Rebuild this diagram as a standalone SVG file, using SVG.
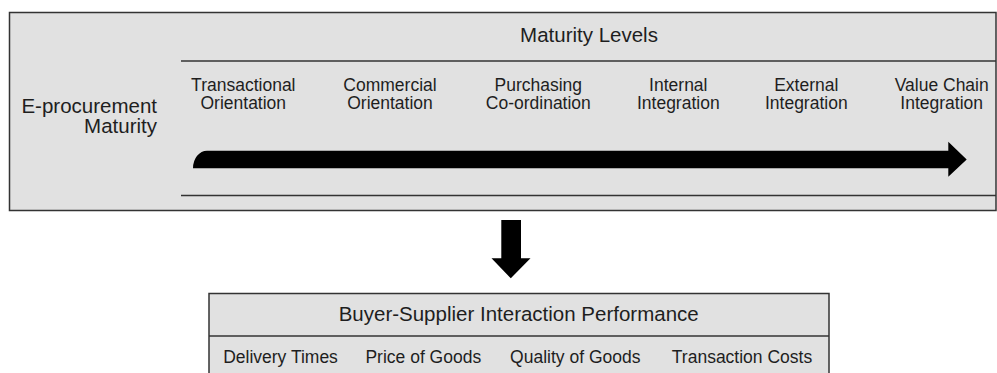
<svg xmlns="http://www.w3.org/2000/svg" width="997" height="373" viewBox="0 0 997 373">
<style>
.box{fill:#e1e1e1;stroke:#333;stroke-width:1.5}
.sep{stroke:#333;stroke-width:1.5;fill:none}
text{font-family:"Liberation Sans",Arial,sans-serif;fill:#1e1e1e}
.t{font-size:20.5px}
.l{font-size:17.5px;text-anchor:middle}
.b{font-size:17.5px;text-anchor:middle}
.arr{fill:#000}
</style>
<rect width="997" height="373" fill="#fff"/>
<g id="maturity">
<rect class="box" x="9.5" y="12.5" width="986.5" height="198"/>
<line class="sep" x1="181" y1="61" x2="996" y2="61"/>
<line class="sep" x1="181" y1="195.5" x2="996" y2="195.5"/>
<text class="t" x="589" y="42" text-anchor="middle">Maturity Levels</text>
<text class="t" x="157" y="113" text-anchor="end">E-procurement</text>
<text class="t" x="157" y="132.5" text-anchor="end">Maturity</text>
<text class="l" x="243.3" y="90.5">Transactional</text>
<text class="l" x="243.3" y="108.5">Orientation</text>
<text class="l" x="390" y="90.5">Commercial</text>
<text class="l" x="390" y="108.5">Orientation</text>
<text class="l" x="538.3" y="90.5">Purchasing</text>
<text class="l" x="538.3" y="108.5">Co-ordination</text>
<text class="l" x="678.3" y="90.5">Internal</text>
<text class="l" x="678.3" y="108.5">Integration</text>
<text class="l" x="806.3" y="90.5">External</text>
<text class="l" x="806.3" y="108.5">Integration</text>
<text class="l" x="941.7" y="90.5">Value Chain</text>
<text class="l" x="941.7" y="108.5">Integration</text>
</g>
<g id="connectors">
<path class="arr" d="M193,168.3 A14,17.6 0 0 1 207,150.7 L948.3,150.7 L948.3,141.7 L966.7,159.5 L948.3,176.7 L948.3,168.3 Z"/>
<path class="arr" d="M501.3,220 L521,220 L521,258.3 L530.5,258.3 L510.8,278.3 L491.5,258.3 L501.3,258.3 Z"/>
</g>
<g id="performance">
<rect class="box" x="209" y="293.5" width="620" height="90"/>
<line class="sep" x1="209" y1="336" x2="829" y2="336"/>
<text class="t" x="518.7" y="321" text-anchor="middle">Buyer-Supplier Interaction Performance</text>
<text class="b" x="280.5" y="363.3">Delivery Times</text>
<text class="b" x="423.3" y="363.3">Price of Goods</text>
<text class="b" x="575.3" y="363.3">Quality of Goods</text>
<text class="b" x="742" y="363.3">Transaction Costs</text>
</g>
</svg>
